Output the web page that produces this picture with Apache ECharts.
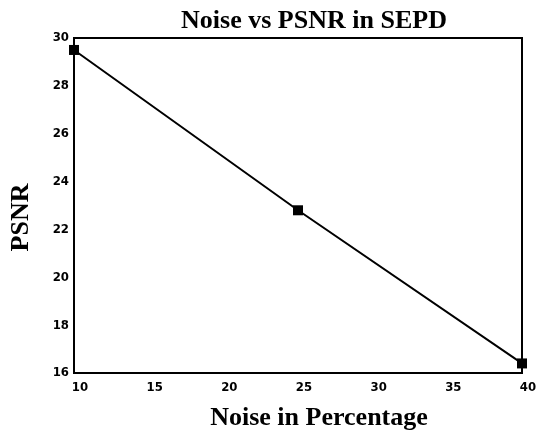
<!DOCTYPE html>
<html>
<head>
<meta charset="utf-8">
<script src="https://cdn.jsdelivr.net/npm/echarts@6/dist/echarts.min.js"></script>
<style>
  html, body { margin: 0; padding: 0; background: #fff; }
  #main { width: 547px; height: 434px; }
</style>
</head>
<body>
<div id="main"></div>
<script>
// noise level (%) and PSNR
var noise = [10, 25, 40];
var psnr = [29.5, 22.8, 16.4];

var chart = echarts.init(document.getElementById("main"));

var tickFont = {
  color: "#000",
  fontFamily: "DejaVu Sans Condensed",
  fontWeight: "bold",
  fontSize: 13
};
var nameFont = {
  fontFamily: "Liberation Serif",
  fontWeight: "bold",
  fontSize: 26,
  color: "#000"
};

var option = {
  animation: false,
  title: {
    text: "Noise vs PSNR in SEPD",
    left: 309,
    textAlign: "center",
    top: 3,
    textStyle: nameFont
  },
  grid: {
    left: 74,
    right: 25,
    top: 38,
    bottom: 61,
    outerBoundsMode: "none",
    show: true,
    borderColor: "#000",
    borderWidth: 2
  },
  xAxis: {
    type: "value",
    min: 10,
    max: 40,
    interval: 5,
    name: "Noise in Percentage",
    nameLocation: "middle",
    nameGap: 32,
    nameTextStyle: Object.assign({ padding: [0, 0, 0, 42] }, nameFont),
    axisLine: { lineStyle: { color: "#000", width: 2 } },
    axisTick: { show: false },
    splitLine: { show: false },
    axisLabel: Object.assign({ margin: 8, padding: [0, 0, 0, 12] }, tickFont)
  },
  yAxis: {
    type: "value",
    min: 16,
    max: 30,
    interval: 2,
    name: "PSNR",
    nameLocation: "middle",
    nameGap: 40,
    nameTextStyle: Object.assign({ padding: [0, 24, 0, 0] }, nameFont),
    axisLine: { lineStyle: { color: "#000", width: 2 } },
    axisTick: { show: false },
    splitLine: { show: false },
    axisLabel: Object.assign({ margin: 5 }, tickFont)
  },
  series: [
    {
      type: "line",
      data: noise.map(function (n, i) { return [n, psnr[i]]; }),
      symbol: "rect",
      symbolSize: 10,
      lineStyle: { color: "#000", width: 2 },
      itemStyle: { color: "#000" }
    }
  ]
};

chart.setOption(option);
</script>
</body>
</html>
